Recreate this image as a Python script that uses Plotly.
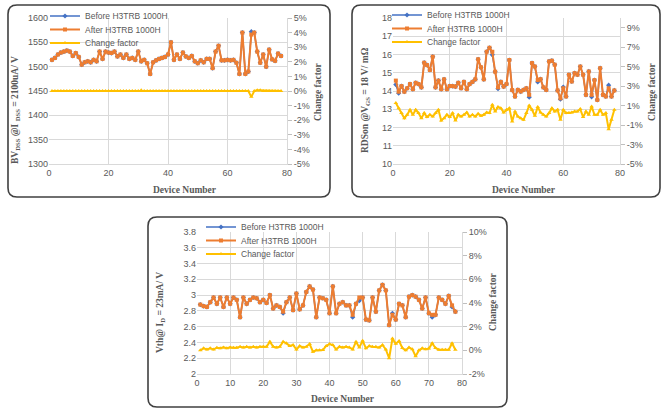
import plotly.graph_objects as go

W, H = 671, 416

devices = list(range(1, 79))

# Panel 1: BVDSS
bv_after = [1514,1518,1525,1529,1531,1533,1531,1522,1528,1520,
            1504,1509,1511,1509,1514,1511,1531,1516,1531,1529,
            1528,1531,1521,1525,1518,1525,1516,1518,1514,1531,
            1511,1514,1507,1485,1509,1513,1516,1518,1520,1525,
            1550,1514,1525,1516,1529,1521,1518,1522,1511,1507,
            1513,1509,1516,1516,1497,1531,1543,1513,1513,1514,
            1513,1514,1508,1485,1570,1485,1490,1566,1570,1531,
            1508,1525,1500,1535,1515,1512,1527,1522]
bv_before = [1514,1518,1525,1529,1531,1533,1531,1522,1528,1520,
             1504,1509,1511,1509,1514,1511,1531,1516,1531,1529,
             1528,1531,1521,1525,1518,1525,1516,1518,1514,1531,
             1511,1514,1507,1485,1509,1513,1516,1518,1520,1525,
             1550,1514,1525,1516,1529,1521,1518,1522,1511,1507,
             1513,1509,1516,1516,1497,1531,1543,1513,1513,1514,
             1513,1514,1508,1485,1570,1485,1490,1572,1570,1531,
             1508,1525,1500,1535,1515,1512,1527,1522]
bv_cf = [0,0,0,0,0,0,0,0,0,0,
         0,0,0,0,0,0,0,0,0,0,
         0,0,0,0,0,0,0,0,0,0,
         0.05,0,0,0,0,0,0,0,0,0,
         0,0,0,0,0,0,0,0,0,0,
         0,0,0,0,0,0,0,0,0,0,
         0,0,0,0,0,0,0,-0.4,0,0.05,
         0.05,0,0,0,0,0,0,0]

# Panel 2: RDSon
rds_after = [14.57,13.96,14.27,13.96,14.15,14.38,14.10,14.45,14.38,14.20,
             15.55,15.42,15.15,15.88,14.20,14.57,14.10,14.64,14.10,14.27,
             14.27,14.24,14.45,14.15,14.50,14.10,14.38,14.50,14.64,15.74,
             15.30,14.64,16.15,16.37,16.15,15.06,14.20,14.50,14.24,14.38,
             15.70,14.05,13.70,14.06,13.97,14.06,14.15,13.79,15.53,15.34,
             14.60,14.65,14.20,14.06,15.62,15.66,15.44,14.03,13.60,14.15,
             13.70,14.89,14.52,14.98,14.89,15.34,14.89,13.79,15.07,13.79,
             14.60,13.51,15.25,13.79,13.70,14.15,13.70,14.03]
rds_before = [14.35,13.88,14.27,13.96,14.15,14.38,14.10,14.45,14.38,14.20,
              15.55,15.42,15.15,15.88,14.20,14.57,14.10,14.64,14.10,14.27,
              14.27,14.24,14.45,14.15,14.50,14.10,14.38,14.50,14.64,15.74,
              15.30,14.64,16.15,16.37,15.98,15.06,14.13,14.50,14.24,14.38,
              15.70,14.05,13.70,14.06,13.97,14.06,14.15,13.66,15.53,15.34,
              14.50,14.65,14.20,14.06,15.62,15.66,15.44,14.03,13.55,14.22,
              13.70,14.89,14.52,14.98,14.89,15.34,14.89,13.79,15.07,13.68,
              14.60,13.51,15.25,13.79,13.70,14.32,13.70,14.03]
rds_cf = [1.26,0.74,0.23,-0.29,0.06,0.57,0.06,0.57,0.23,-0.29,
          0.23,-0.18,0.06,-0.12,0.23,0.57,-0.53,-0.29,0.06,-0.18,
          0.23,-0.53,0.06,-0.12,0.06,0.30,-0.12,0.06,-0.12,0.16,
          -0.05,0.06,0.30,0.23,1.09,0.40,0.85,0.74,0.30,0.57,
          0.74,-0.63,0.40,-0.12,-0.29,-0.46,0.23,1.00,0.57,-0.05,
          0.85,0.30,0.06,-0.12,0.23,0.74,0.40,0.57,-0.46,0.57,
          0.23,0.23,0.30,0.40,0.40,0.64,-0.18,0.40,0.06,0.92,
          0.06,0.06,0.57,0.06,0.23,-1.42,-0.46,0.57]

# Panel 3: Vth
vth_after = [2.88,2.86,2.85,2.91,2.97,2.89,2.97,2.85,2.97,2.89,
             2.97,2.94,2.72,2.97,2.89,2.94,2.97,2.96,2.91,2.94,
             2.90,3.00,2.83,2.87,2.85,2.79,2.91,2.97,2.81,3.02,
             2.82,2.87,3.04,3.11,3.07,2.72,2.97,2.96,2.94,2.77,
             3.11,2.77,2.89,2.91,2.87,2.87,2.75,2.89,2.97,2.97,
             2.69,2.68,2.97,2.79,3.06,3.13,3.06,2.62,2.75,2.69,
             2.89,2.87,2.72,2.98,3.00,2.98,2.94,2.83,2.97,2.77,
             2.75,2.75,2.97,2.94,2.89,2.99,2.87,2.79]
vth_before = [2.88,2.86,2.85,2.91,2.97,2.89,2.97,2.85,2.97,2.89,
              2.97,2.94,2.72,2.97,2.89,2.94,2.97,2.96,2.91,2.94,
              2.90,3.00,2.83,2.87,2.85,2.77,2.91,2.97,2.81,3.02,
              2.82,2.87,3.04,3.11,3.07,2.72,2.97,2.96,2.94,2.77,
              3.11,2.77,2.89,2.91,2.87,2.87,2.72,2.89,2.93,2.97,
              2.69,2.68,2.97,2.79,3.06,3.13,3.06,2.62,2.77,2.69,
              2.89,2.87,2.72,2.98,3.00,2.98,2.94,2.83,2.97,2.77,
              2.72,2.75,2.97,2.94,2.89,2.99,2.85,2.79]
vth_cf = [0.00,0.17,0.08,0.17,0.08,0.22,0.17,0.25,0.17,0.25,
          0.22,0.22,0.31,0.25,0.31,0.25,0.31,0.25,0.31,0.31,
          0.31,0.73,0.31,0.25,0.31,0.73,0.59,0.37,0.45,0.08,
          0.37,0.25,0.31,0.53,-0.11,0.00,0.00,0.03,0.37,0.53,
          0.45,0.08,0.31,0.25,0.31,0.25,0.08,0.73,0.25,0.81,
          0.17,0.37,0.31,0.31,0.25,0.45,0.08,-0.67,1.00,0.55,
          0.78,0.20,0.00,0.25,0.10,-0.50,0.00,0.17,0.10,0.15,
          0.60,0.20,0.05,0.05,0.05,0.05,0.60,0.05]

bv_ticks = [1300,1350,1400,1450,1500,1550,1600]
bv_cf_ticks = [-5,-4,-3,-2,-1,0,1,2,3,4,5]
rds_ticks = [10,11,12,13,14,15,16,17,18]
rds_cf_ticks = [-5,-3,-1,1,3,5,7,9]
vth_ticks = [2,2.2,2.4,2.6,2.8,3,3.2,3.4,3.6,3.8]
vth_cf_ticks = [-2,0,2,4,6,8,10]

series_names = ["Before H3TRB 1000H", "After H3TRB 1000H", "Change factor"]

BLUE, ORANGE, YELLOW = "#4472C4", "#ED7D31", "#FFC000"
TICKC = "#595959"
GRID = "#d9d9d9"
SANS = "Liberation Sans, Arial, sans-serif"
SERIF = "Liberation Serif, Times New Roman, serif"

def px_x(p):
    return p / W

def px_y(p):
    return 1 - p / H

fig = go.Figure()

panels = [
    dict(x="x", y="y", y2="y2", before=bv_before, after=bv_after, cf=bv_cf, legs=["legend", "legend2", "legend3"]),
    dict(x="x2", y="y3", y2="y4", before=rds_before, after=rds_after, cf=rds_cf, legs=["legend4", "legend5", "legend6"]),
    dict(x="x3", y="y5", y2="y6", before=vth_before, after=vth_after, cf=vth_cf, legs=["legend7", "legend8", "legend9"]),
]

for p in panels:
    fig.add_trace(go.Scatter(x=devices, y=p["before"], xaxis=p["x"], yaxis=p["y"], name=series_names[0],
                             mode="lines+markers", line=dict(color=BLUE, width=1.5), showlegend=True,
                             marker=dict(symbol="diamond", size=4, color=BLUE), legend=p["legs"][0]))
    fig.add_trace(go.Scatter(x=devices, y=p["after"], xaxis=p["x"], yaxis=p["y"], name=series_names[1],
                             mode="lines+markers", line=dict(color=ORANGE, width=2), showlegend=True,
                             marker=dict(symbol="square", size=4, color=ORANGE), legend=p["legs"][1]))
    fig.add_trace(go.Scatter(x=devices, y=p["cf"], xaxis=p["x"], yaxis=p["y2"], name=series_names[2],
                             mode="lines+markers", line=dict(color=YELLOW, width=2), showlegend=True,
                             marker=dict(symbol="triangle-up", size=4, color=YELLOW), legend=p["legs"][2]))

tickfont = dict(family=SANS, size=9, color=TICKC)

def xax(dom, yanchor, dtick):
    return dict(domain=dom, anchor=yanchor, range=[0, 80], dtick=dtick, tick0=0,
                showgrid=True, gridcolor=GRID, gridwidth=1, zeroline=False,
                showline=True, linecolor=GRID, linewidth=1, ticks="", tickfont=tickfont,
                fixedrange=True)

def yleft(dom, xanchor, rng, ticks):
    return dict(domain=dom, anchor=xanchor, range=rng, tickvals=ticks,
                ticktext=[str(t) for t in ticks],
                showgrid=True, gridcolor=GRID, gridwidth=1, zeroline=False,
                showline=False, ticks="", tickfont=tickfont)

def yright(over, xanchor, rng, ticks):
    return dict(overlaying=over, anchor=xanchor, side="right", range=rng, tickvals=ticks,
                ticktext=[f"{t}%" for t in ticks],
                showgrid=False, zeroline=False, showline=True, linecolor=GRID,
                ticks="outside", ticklen=4, tickcolor="#bfbfbf", tickfont=tickfont)

ydom_top = [px_y(164), px_y(18)]
ydom_bot = [px_y(374), px_y(232)]

layout = dict(
    width=W, height=H, margin=dict(l=0, r=0, t=0, b=0, pad=0, autoexpand=False),
    paper_bgcolor="white", plot_bgcolor="white", showlegend=True,
    xaxis=xax([px_x(49), px_x(287)], "y", 20),
    yaxis=yleft(ydom_top, "x", [1300, 1600], bv_ticks),
    yaxis2=yright("y", "x", [-5, 5], bv_cf_ticks),
    xaxis2=xax([px_x(393), px_x(620)], "y3", 20),
    yaxis3=yleft(ydom_top, "x2", [10, 18], rds_ticks),
    yaxis4=yright("y3", "x2", [-5, 10], rds_cf_ticks),
    xaxis3=xax([px_x(197), px_x(462)], "y5", 10),
    yaxis5=yleft(ydom_bot, "x3", [2, 3.8], vth_ticks),
    yaxis6=yright("y5", "x3", [-2, 10], vth_cf_ticks),
)

legfont = dict(family=SANS, size=8.5, color=TICKC)
def leg(textx, rowy):
    return dict(x=px_x(textx - 41), y=px_y(rowy), xref="paper", yref="paper",
                xanchor="left", yanchor="middle", bgcolor="rgba(0,0,0,0)",
                borderwidth=0, font=legfont, itemwidth=30)

rows = [(86, [16, 29.5, 43]), (428, [15, 28.5, 42]), (242, [227, 240.5, 254])]
k = 1
for tx, ys in rows:
    for yy in ys:
        key = "legend" if k == 1 else f"legend{k}"
        layout[key] = leg(tx, yy)
        k += 1

fig.update_layout(**layout)

# Rounded frames
def rrect(x0, y0, x1, y1, r=9):
    def P(a, b):
        return f"{px_x(a):.5f},{px_y(b):.5f}"
    path = (f"M {P(x0 + r, y0)} L {P(x1 - r, y0)} Q {P(x1, y0)} {P(x1, y0 + r)} "
            f"L {P(x1, y1 - r)} Q {P(x1, y1)} {P(x1 - r, y1)} "
            f"L {P(x0 + r, y1)} Q {P(x0, y1)} {P(x0, y1 - r)} "
            f"L {P(x0, y0 + r)} Q {P(x0, y0)} {P(x0 + r, y0)} Z")
    return dict(type="path", path=path, xref="paper", yref="paper",
                line=dict(color="#404040", width=1.6), fillcolor="rgba(0,0,0,0)", layer="above")

fig.update_layout(shapes=[rrect(8, 5, 330, 197), rrect(352, 5, 660, 197), rrect(148, 217, 507, 407)])

titlefont = dict(family=SERIF, size=9.5, color=TICKC)
annots = [
    ("Device Number", 185, 190, 0),
    ("Device Number", 524, 190, 0),
    ("Device Number", 343, 399, 0),
    ("BV<sub>DSS</sub> @I <sub>DSS</sub> = 2100uA/ V", 16, 110, -90),
    ("RDSon @V<sub>GS</sub> = 18 V/ mΩ", 365, 100, -90),
    ("Vth@ I<sub>D</sub> = 23mA/ V", 160, 313, -90),
    ("Change factor", 318, 92, -90),
    ("Change factor", 652, 92, -90),
    ("Change factor", 493, 302, -90),
]
for txt, ax_, ay_, ang in annots:
    fig.add_annotation(text=f"<b>{txt}</b>", x=px_x(ax_), y=px_y(ay_), xref="paper", yref="paper",
                       showarrow=False, textangle=ang, font=titlefont,
                       xanchor="center", yanchor="middle")

fig.write_html("out.html", config={"displayModeBar": False},
               post_script="document.body.style.margin='0px';document.body.style.padding='0px';document.body.style.overflow='hidden';")
